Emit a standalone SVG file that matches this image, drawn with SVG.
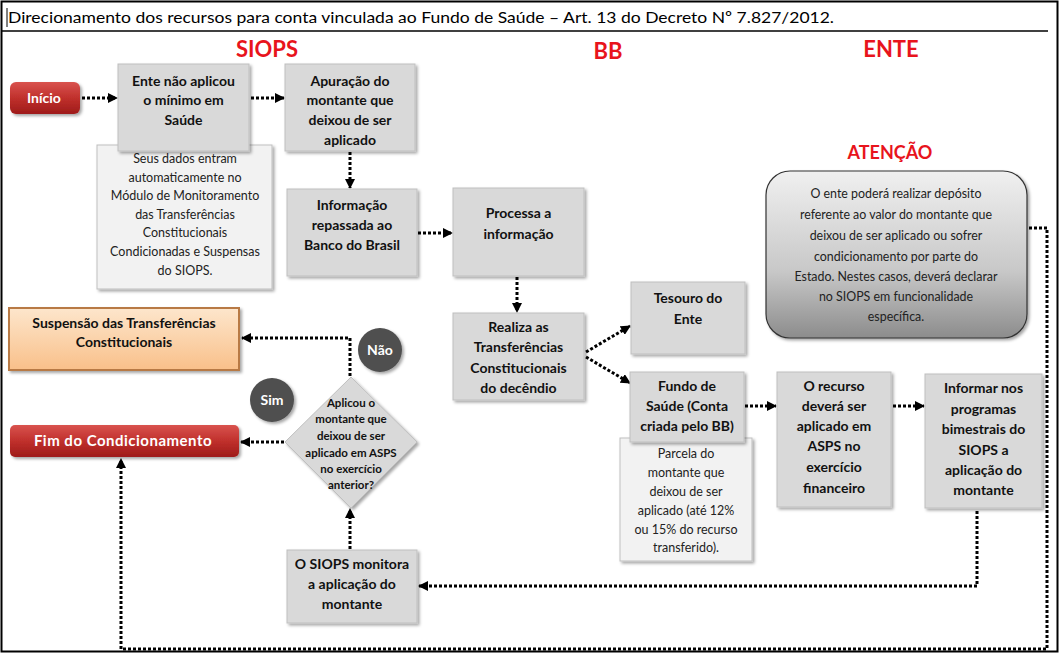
<svg xmlns="http://www.w3.org/2000/svg" width="1061" height="654" viewBox="0 0 1061 654">
<style>
text{font-family:Lato,"Liberation Sans",sans-serif;}
.box{fill:#d9d9d9;stroke:#bfbfbf;stroke-width:1;filter:url(#sh);}
.note{fill:#f2f2f2;stroke:#bfbfbf;stroke-width:1;filter:url(#sh);}
.bt{font-size:14px;font-weight:bold;fill:#111;text-anchor:middle;}
.nt{font-size:12.5px;fill:#222;text-anchor:middle;}
.at{font-size:12.4px;fill:#222;text-anchor:middle;}
.dt{font-size:11.5px;font-weight:bold;fill:#111;text-anchor:middle;}
.wt{font-size:14px;font-weight:bold;fill:#fff;text-anchor:middle;}
.hd{font-size:22px;font-weight:bold;fill:#e8141c;text-anchor:middle;}
.con{fill:none;stroke:#000;stroke-width:3;stroke-dasharray:3 2;}
.arr{marker-end:url(#ah);}
</style>
<defs>
<filter id="sh" x="-10%" y="-10%" width="130%" height="130%">
<feDropShadow dx="2" dy="2" stdDeviation="1.5" flood-color="#000" flood-opacity="0.35"/>
</filter>
<linearGradient id="red" x1="0" y1="0" x2="0" y2="1">
<stop offset="0" stop-color="#d9534f"/>
<stop offset="0.5" stop-color="#c0302c"/>
<stop offset="1" stop-color="#9e1c1a"/>
</linearGradient>
<linearGradient id="org" x1="0" y1="0" x2="0" y2="1">
<stop offset="0" stop-color="#fde6cc"/>
<stop offset="1" stop-color="#f9c08a"/>
</linearGradient>
<linearGradient id="att" x1="0" y1="0" x2="0" y2="1">
<stop offset="0" stop-color="#f0f0f0"/>
<stop offset="0.6" stop-color="#c8c8c8"/>
<stop offset="1" stop-color="#8c8c8c"/>
</linearGradient>
<marker id="ah" markerUnits="userSpaceOnUse" markerWidth="10" markerHeight="10" viewBox="0 0 10 10" refX="9" refY="5" orient="auto">
<path d="M0,0 L10,5 L0,10 Z" fill="#000"/>
</marker>
</defs>
<rect x="0" y="0" width="1061" height="654" fill="#fff"/>
<rect x="1.5" y="1.5" width="1056" height="650" fill="none" stroke="#000" stroke-width="2"/>
<line x1="2" y1="31" x2="1048" y2="31" stroke="#000" stroke-width="1.5"/>
<line x1="7" y1="8" x2="7" y2="27" stroke="#000" stroke-width="1"/>
<text x="8" y="23" font-size="16" fill="#000" textLength="826" lengthAdjust="spacingAndGlyphs">Direcionamento dos recursos para conta vinculada ao Fundo de Saúde – Art. 13 do Decreto Nº 7.827/2012.</text>
<text class="hd" x="267" y="57">SIOPS</text>
<text class="hd" x="608" y="59">BB</text>
<text class="hd" x="891" y="57">ENTE</text>
<text class="hd" x="890" y="159" style="font-size:18px">ATENÇÃO</text>

<g id="connectors">
<line class="con arr" x1="82" y1="98" x2="117" y2="98"/>
<line class="con arr" x1="251" y1="98" x2="284" y2="98"/>
<line class="con arr" x1="350" y1="152" x2="350" y2="188"/>
<line class="con arr" x1="418" y1="233" x2="452" y2="233"/>
<line class="con arr" x1="517" y1="277" x2="517" y2="312"/>
<line class="con arr" x1="586" y1="352" x2="630" y2="326"/>
<line class="con arr" x1="586" y1="357" x2="630" y2="383"/>
<line class="con arr" x1="745" y1="406" x2="776" y2="406"/>
<line class="con arr" x1="893" y1="406" x2="924" y2="406"/>
<polyline class="con arr" points="977,511 977,586 419,586"/>
<line class="con arr" x1="350" y1="549" x2="350" y2="509"/>
<line class="con arr" x1="284" y1="442" x2="241" y2="442"/>
<polyline class="con arr" points="350,376 350,338 242,338"/>
<polyline class="con arr" points="1029,228 1047,228 1047,649 121,649 121,459"/>
</g>

<g id="inicio">
<rect x="10" y="82" width="70" height="32" rx="6" fill="url(#red)" filter="url(#sh)"/>
<text class="wt" x="44" y="103">Início</text>
</g>
<g id="note1">
<rect class="note" x="97" y="145" width="175" height="144"/>
<text class="nt" x="185" y="163">Seus dados entram</text>
<text class="nt" x="185" y="182">automaticamente no</text>
<text class="nt" x="185" y="200">Módulo de Monitoramento</text>
<text class="nt" x="185" y="219">das Transferências</text>
<text class="nt" x="185" y="237">Constitucionais</text>
<text class="nt" x="185" y="256">Condicionadas e Suspensas</text>
<text class="nt" x="185" y="275">do SIOPS.</text>
</g>
<g id="ente-nao-aplicou">
<rect class="box" x="118" y="64" width="131" height="87"/>
<text class="bt" x="183.5" y="86">Ente não aplicou</text>
<text class="bt" x="183.5" y="105">o mínimo em</text>
<text class="bt" x="183.5" y="125">Saúde</text>
</g>
<g id="apuracao">
<rect class="box" x="285" y="64" width="130" height="87"/>
<text class="bt" x="350" y="86">Apuração do</text>
<text class="bt" x="350" y="105">montante que</text>
<text class="bt" x="350" y="125">deixou de ser</text>
<text class="bt" x="350" y="145">aplicado</text>
</g>
<g id="informacao">
<rect class="box" x="287" y="189" width="130" height="87"/>
<text class="bt" x="352" y="210">Informação</text>
<text class="bt" x="352" y="230">repassada ao</text>
<text class="bt" x="352" y="250">Banco do Brasil</text>
</g>
<g id="processa">
<rect class="box" x="453" y="188" width="131" height="88"/>
<text class="bt" x="518.5" y="218">Processa a</text>
<text class="bt" x="518.5" y="239">informação</text>
</g>
<g id="realiza">
<rect class="box" x="453" y="313" width="131" height="87"/>
<text class="bt" x="518.5" y="332">Realiza as</text>
<text class="bt" x="518.5" y="352">Transferências</text>
<text class="bt" x="518.5" y="373">Constitucionais</text>
<text class="bt" x="518.5" y="393">do decêndio</text>
</g>
<g id="tesouro">
<rect class="box" x="631" y="282" width="114" height="72"/>
<text class="bt" x="688" y="303">Tesouro do</text>
<text class="bt" x="688" y="324">Ente</text>
</g>
<g id="note2">
<rect class="note" x="620" y="438" width="132" height="123"/>
<text class="nt" x="686" y="458">Parcela do</text>
<text class="nt" x="686" y="477">montante  que</text>
<text class="nt" x="686" y="496">deixou de ser</text>
<text class="nt" x="686" y="515">aplicado (até 12%</text>
<text class="nt" x="686" y="534">ou 15% do recurso</text>
<text class="nt" x="686" y="552">transferido).</text>
</g>
<g id="fundo">
<rect class="box" x="630" y="372" width="114" height="70"/>
<text class="bt" x="687" y="391">Fundo de</text>
<text class="bt" x="687" y="411">Saúde (Conta</text>
<text class="bt" x="687" y="431">criada pelo BB)</text>
</g>
<g id="recurso">
<rect class="box" x="777" y="372" width="114" height="135"/>
<text class="bt" x="834" y="391">O recurso</text>
<text class="bt" x="834" y="411">deverá ser</text>
<text class="bt" x="834" y="431">aplicado em</text>
<text class="bt" x="834" y="451">ASPS no</text>
<text class="bt" x="834" y="472">exercício</text>
<text class="bt" x="834" y="493">financeiro</text>
</g>
<g id="informar">
<rect class="box" x="925" y="374" width="117" height="134"/>
<text class="bt" x="983.5" y="393">Informar nos</text>
<text class="bt" x="983.5" y="414">programas</text>
<text class="bt" x="983.5" y="434">bimestrais do</text>
<text class="bt" x="983.5" y="455">SIOPS a</text>
<text class="bt" x="983.5" y="475">aplicação do</text>
<text class="bt" x="983.5" y="495">montante</text>
</g>
<g id="atencao">
<rect x="766" y="171" width="261" height="167" rx="24" fill="url(#att)" stroke="#333" stroke-width="1.2" filter="url(#sh)"/>
<text class="at" x="896" y="198">O ente poderá realizar depósito</text>
<text class="at" x="896" y="219">referente ao valor do montante que</text>
<text class="at" x="896" y="240">deixou de ser aplicado ou sofrer</text>
<text class="at" x="896" y="261">condicionamento por parte do</text>
<text class="at" x="896" y="281">Estado. Nestes casos, deverá declarar</text>
<text class="at" x="896" y="301">no SIOPS em funcionalidade</text>
<text class="at" x="896" y="321">específica.</text>
</g>
<g id="suspensao">
<rect x="9" y="308" width="230" height="62" fill="url(#org)" stroke="#b87a45" stroke-width="2" filter="url(#sh)"/>
<text class="bt" x="124" y="328">Suspensão das Transferências</text>
<text class="bt" x="124" y="347">Constitucionais</text>
</g>
<g id="fim">
<rect x="10" y="425" width="229" height="32" rx="5" fill="url(#red)" filter="url(#sh)"/>
<text class="wt" x="123" y="446" style="font-size:15px;letter-spacing:0.5px">Fim do Condicionamento</text>
</g>
<g id="decisao">
<polygon points="351,377 417,442 351,508 285,442" fill="#d9d9d9" stroke="#bfbfbf" stroke-width="1" filter="url(#sh)"/>
<text class="dt" x="351" y="407">Aplicou o</text>
<text class="dt" x="351" y="423">montante que</text>
<text class="dt" x="351" y="440">deixou de ser</text>
<text class="dt" x="351" y="457">aplicado em ASPS</text>
<text class="dt" x="351" y="473">no exercício</text>
<text class="dt" x="351" y="489">anterior?</text>
</g>
<g id="nao">
<circle cx="380" cy="350" r="22" fill="#4f4f4f" filter="url(#sh)"/>
<text class="wt" x="380" y="355">Não</text>
</g>
<g id="sim">
<circle cx="272" cy="400" r="22" fill="#4f4f4f" filter="url(#sh)"/>
<text class="wt" x="272" y="405">Sim</text>
</g>
<g id="monitora">
<rect class="box" x="287" y="550" width="130" height="73"/>
<text class="bt" x="352" y="569">O SIOPS monitora</text>
<text class="bt" x="352" y="589">a aplicação do</text>
<text class="bt" x="352" y="609">montante</text>
</g>
</svg>
